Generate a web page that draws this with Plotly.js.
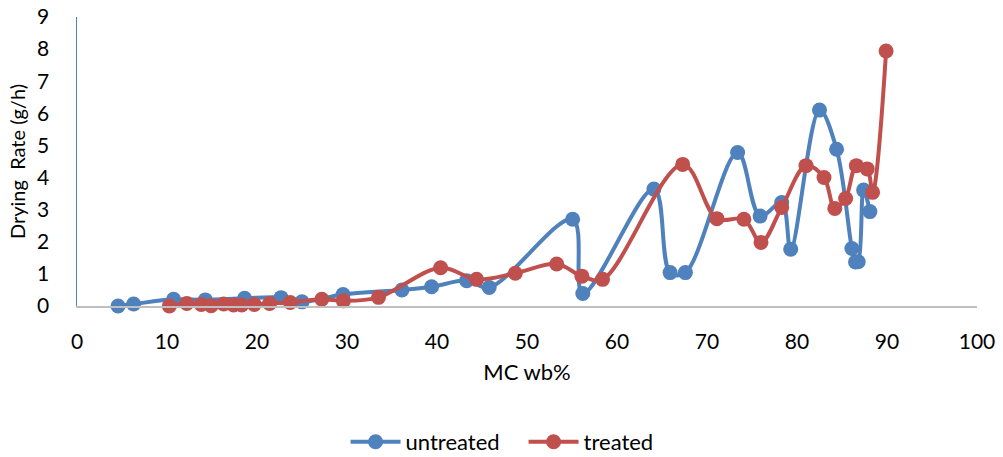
<!DOCTYPE html>
<html>
<head>
<meta charset="utf-8">
<script src="https://cdn.plot.ly/plotly-3.0.1.min.js"></script>
<style>html,body{margin:0;padding:0;background:#fff;}#chart{width:1003px;height:457px;}</style>
</head>
<body>
<div id="chart"></div>
<script>
const untreatedMC = [4.56, 6.29, 10.73, 14.26, 18.62, 22.67, 25.0, 29.56, 36.1, 39.4, 43.3, 45.8, 55.07, 56.2, 64.1, 65.9, 67.6, 73.4, 75.9, 78.3, 79.3, 82.5, 84.4, 86.1, 86.5, 86.8, 87.4, 88.1];
const untreatedRate = [0.0, 0.06, 0.21, 0.19, 0.24, 0.26, 0.13, 0.36, 0.5, 0.6, 0.79, 0.58, 2.7, 0.39, 3.64, 1.04, 1.04, 4.78, 2.80, 3.22, 1.77, 6.1, 4.88, 1.79, 1.37, 1.38, 3.61, 2.94];
const treatedMC = [10.26, 12.2, 13.8, 14.9, 16.3, 17.4, 18.3, 19.7, 21.4, 23.7, 27.2, 29.6, 33.5, 40.4, 44.4, 48.7, 53.3, 56.1, 58.4, 67.3, 71.1, 74.1, 76.0, 78.3, 81.0, 83.0, 84.2, 85.4, 86.6, 87.8, 88.4, 89.9];
const treatedRate = [0.0, 0.08, 0.05, 0.01, 0.06, 0.03, 0.03, 0.05, 0.08, 0.11, 0.21, 0.16, 0.27, 1.19, 0.83, 1.02, 1.31, 0.93, 0.83, 4.41, 2.72, 2.7, 1.98, 3.07, 4.37, 4.0, 3.04, 3.35, 4.37, 4.27, 3.54, 7.94];
const seriesNames = ["untreated", "treated"];
const xTicks = [0, 10, 20, 30, 40, 50, 60, 70, 80, 90, 100];
const yTicks = [0, 1, 2, 3, 4, 5, 6, 7, 8, 9];

const font = "Lato, 'Open Sans', sans-serif";
const traces = [
  {x: untreatedMC, y: untreatedRate, name: seriesNames[0], type: "scatter", mode: "lines+markers",
   line: {color: "#4F81BD", width: 4, shape: "spline", smoothing: 1},
   marker: {color: "#4F81BD", size: 15}, cliponaxis: false},
  {x: treatedMC, y: treatedRate, name: seriesNames[1], type: "scatter", mode: "lines+markers",
   line: {color: "#C0504D", width: 4, shape: "spline", smoothing: 1},
   marker: {color: "#C0504D", size: 15}, cliponaxis: false}
];
const layout = {
  width: 1003, height: 457,
  margin: {l: 77, r: 26, t: 17, b: 151},
  paper_bgcolor: "#fff", plot_bgcolor: "#fff",
  font: {family: font, size: 21, color: "#000"},
  showlegend: true,
  legend: {orientation: "h", x: 0.522, xanchor: "center", xref: "container",
           y: 0.033, yanchor: "middle", yref: "container",
           entrywidth: 113, entrywidthmode: "pixels", itemwidth: 50,
           font: {family: font, size: 22, color: "#000"}},
  xaxis: {range: [0, 100], tickvals: xTicks, ticktext: xTicks.map(String),
          showgrid: false, zeroline: false, showline: true, linecolor: "#BFBFBF", linewidth: 1.5,
          ticks: "", ticklabelstandoff: 16, automargin: false,
          tickfont: {family: font, size: 21},
          title: {text: "MC wb%", font: {family: font, size: 22}, standoff: 13}},
  yaxis: {range: [0, 9], tickvals: yTicks, ticktext: yTicks.map(String),
          showgrid: false, zeroline: false, showline: true, linecolor: "#4F81BD", linewidth: 1.5,
          ticks: "", ticklabelstandoff: 22, automargin: false,
          tickfont: {family: font, size: 21},
          title: {text: "Drying\u00A0 Rate (g/h)", font: {family: font, size: 20}, standoff: 6}}
};
Plotly.newPlot("chart", traces, layout, {displayModeBar: false, staticPlot: true});
</script>
</body>
</html>
